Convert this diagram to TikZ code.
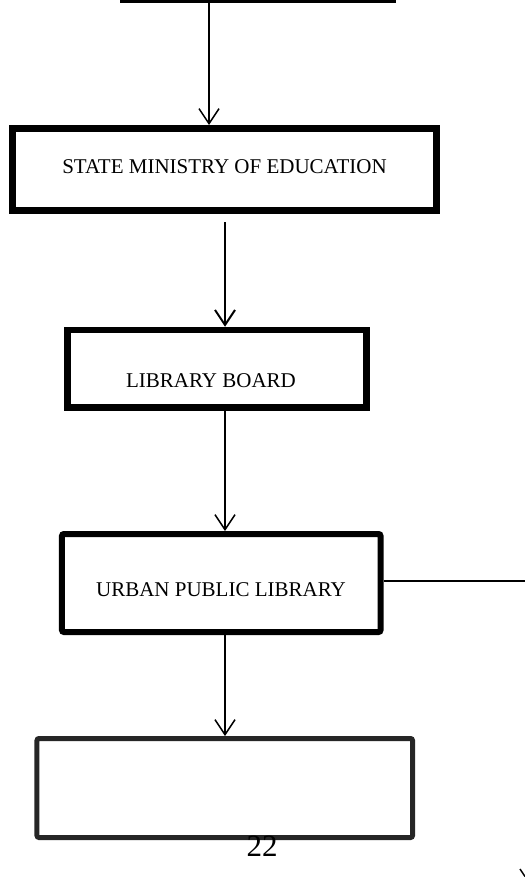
\documentclass[tikz,border=0pt]{standalone}
\usepackage{fontspec}
\setmainfont{Liberation Serif}
\usetikzlibrary{arrows.meta}
\tikzset{
  lbl/.style={font=\fontsize{21bp}{25bp}\selectfont},
  boxa/.style={draw=black, fill=white, inner sep=0pt},
  arr/.style={-{Straight Barb[length=15bp,width=20bp]}, line width=1.5bp},
}
\begin{document}
\begin{tikzpicture}[x=1bp,y=-1bp]
\useasboundingbox (0,0) rectangle (525,877);
\clip (0,0) rectangle (525,877);
% top box (mostly cut off)
\node[boxa, line width=3bp, minimum width=272bp, minimum height=60bp, anchor=south] (top) at (258,3) {};
% boxes
\node[boxa, line width=7bp, minimum width=424bp, minimum height=82bp] (smoe) at (224.5,169.5) {};
\node[lbl] (smoet) at (224.5,167) {STATE MINISTRY OF EDUCATION};
\node[boxa, line width=6.5bp, minimum width=299bp, minimum height=77.5bp] (lb) at (217,368.75) {};
\node[lbl] (lbt) at (211,381) {LIBRARY BOARD};
\node[boxa, line width=6bp, rounded corners=2bp, minimum width=318.5bp, minimum height=98bp] (upl) at (221.25,583) {};
\node[lbl] (uplt) at (221,590) {URBAN PUBLIC LIBRARY};
\node[boxa, draw={rgb,255:red,38;green,38;blue,38}, line width=5bp, rounded corners=2bp, minimum width=375.5bp, minimum height=99bp] (last) at (224.75,788) {};
\node[font=\fontsize{31bp}{36bp}\selectfont] (pg) at (262,846) {22};
% connectors
\coordinate (a1s) at (209,3);
\draw[arr] (a1s) -- (a1s |- smoe.north);
\coordinate (a2s) at (225,222);
\draw[arr, line width=2bp] (a2s) -- (a2s |- lb.north);
\coordinate (a3s) at (225,411);
\draw[arr] (a3s) -- (a3s |- upl.north);
\coordinate (a4s) at (225,635);
\draw[arr] (a4s) -- (a4s |- last.north);
\coordinate (re) at (525,581);
\draw[line width=1.5bp] (upl.east |- re) -- (re);
\coordinate (fa) at (520,869);
\coordinate (fb) at (526,878);
\draw[line width=1.5bp] (fa) -- (fb);
\end{tikzpicture}
\end{document}
